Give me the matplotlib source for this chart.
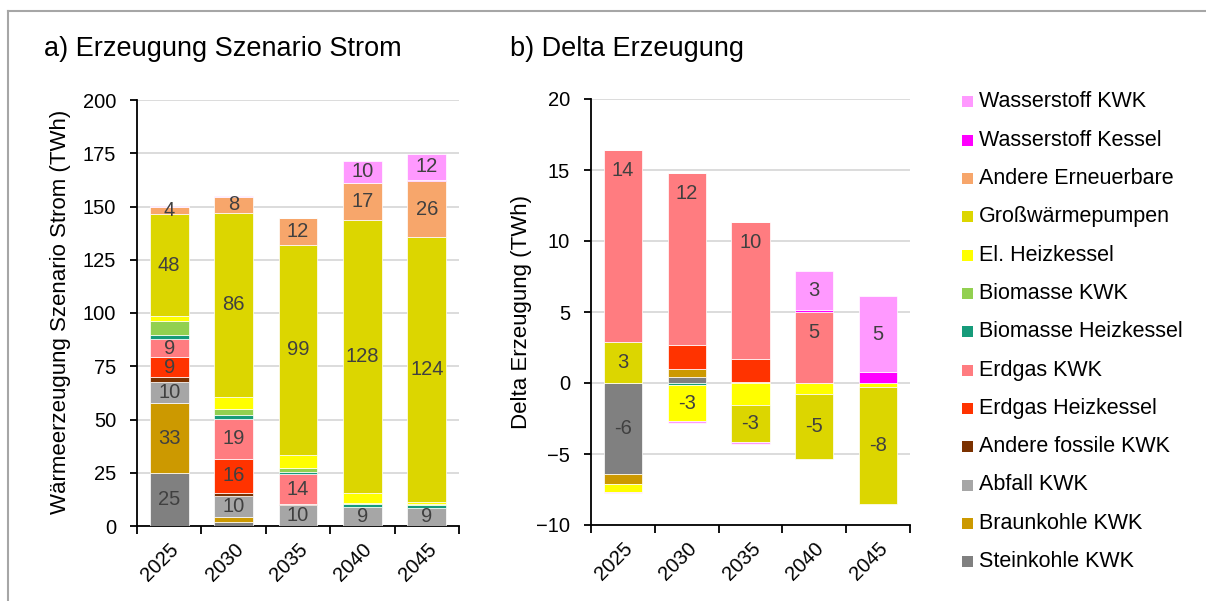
import numpy as np
import matplotlib
matplotlib.use('Agg')
import matplotlib.pyplot as plt
from matplotlib.patches import Rectangle
from matplotlib.lines import Line2D

plt.rcParams['font.family'] = ['Liberation Sans', 'DejaVu Sans']

# --- Data ---
years = ['2025', '2030', '2035', '2040', '2045']

# a) Erzeugung Szenario Strom (TWh)
a_steinkohle = [24.7, 1.9, 0, 0, 0]
a_braunkohle = [33.0, 2.2, 0, 0, 0]
a_abfall = [9.8, 10.0, 9.7, 8.75, 8.6]
a_andere_fossile = [2.3, 1.6, 0.6, 0, 0]
a_erdgas_kessel = [9.4, 15.9, 0, 0, 0]
a_erdgas_kwk = [8.6, 18.8, 14.0, 0.4, 0]
a_bio_kessel = [1.7, 1.7, 1.1, 1.0, 1.1]
a_bio_kwk = [6.9, 2.7, 1.9, 0.8, 0.5]
a_el_kessel = [2.2, 5.9, 5.9, 4.7, 0.9]
a_gwp = [47.7, 86.4, 98.9, 128.0, 124.4]
a_andere_ee = [3.6, 7.5, 12.3, 17.4, 26.4]
a_h2_kessel = [0, 0, 0, 0, 0.5]
a_h2_kwk = [0.3, 0.3, 0.4, 10.3, 12.3]

# b) Delta Erzeugung (TWh)
b_steinkohle = [-6.44, 0.4, 0, 0, 0]
b_braunkohle = [-0.64, 0.6, 0, 0, 0]
b_abfall = [0, 0, 0, 0, 0]
b_andere_fossile = [0, 0, 0.1, 0, 0]
b_erdgas_kessel = [0, 1.7, 1.6, 0, 0]
b_erdgas_kwk = [13.5, 12.1, 9.65, 5.0, 0]
b_bio_kessel = [0, -0.15, 0, 0, 0]
b_bio_kwk = [0, 0, 0, 0, 0]
b_el_kessel = [-0.6, -2.55, -1.58, -0.75, -0.25]
b_gwp = [2.9, 0, -2.6, -4.6, -8.3]
b_andere_ee = [0, 0, 0, 0, 0]
b_h2_kessel = [0, 0, 0, 0.16, 0.8]
b_h2_kwk = [-0.1, -0.15, -0.1, 2.75, 5.3]

names = ['Steinkohle KWK', 'Braunkohle KWK', 'Abfall KWK', 'Andere fossile KWK',
         'Erdgas Heizkessel', 'Erdgas KWK', 'Biomasse Heizkessel', 'Biomasse KWK',
         'El. Heizkessel', 'Großwärmepumpen', 'Andere Erneuerbare',
         'Wasserstoff Kessel', 'Wasserstoff KWK']
colors = ['#808080', '#cc9900', '#a6a6a6', '#7b3100',
          '#ff3300', '#ff7c80', '#169b7a', '#92d050',
          '#ffff00', '#dcd600', '#f7a66b',
          '#ff00ff', '#ff99ff']

series_a = dict(zip(names, [a_steinkohle, a_braunkohle, a_abfall, a_andere_fossile,
                            a_erdgas_kessel, a_erdgas_kwk, a_bio_kessel, a_bio_kwk,
                            a_el_kessel, a_gwp, a_andere_ee, a_h2_kessel, a_h2_kwk]))
series_b = dict(zip(names, [b_steinkohle, b_braunkohle, b_abfall, b_andere_fossile,
                            b_erdgas_kessel, b_erdgas_kwk, b_bio_kessel, b_bio_kwk,
                            b_el_kessel, b_gwp, b_andere_ee, b_h2_kessel, b_h2_kwk]))
color_of = dict(zip(names, colors))

# the delta chart stacks in a slightly different order
order_b = ['Steinkohle KWK', 'Braunkohle KWK', 'Abfall KWK', 'Andere fossile KWK',
           'Biomasse Heizkessel', 'Biomasse KWK', 'El. Heizkessel', 'Großwärmepumpen',
           'Erdgas Heizkessel', 'Erdgas KWK', 'Andere Erneuerbare',
           'Wasserstoff Kessel', 'Wasserstoff KWK']

W, H = 1206, 601
LABEL_COLOR = '#404040'
GRID_COLOR = '#d9d9d9'


def fx(px):
    return px / W


def fy(py):
    return 1 - py / H


def stacked(ax, series, order, skip_labels=(), top_labels=()):
    x = np.arange(len(years))
    pos = np.zeros(len(years))
    neg = np.zeros(len(years))
    for name in order:
        vals = np.array(series[name], dtype=float)
        bottom = np.where(vals >= 0, pos, neg)
        ax.bar(x, vals, 0.6, bottom=bottom, color=color_of[name],
               edgecolor='white', linewidth=0.5, zorder=3)
        for xi, v, b in zip(x, vals, bottom):
            if abs(v) < 2.5 or name in skip_labels:
                continue
            if name in top_labels:
                ax.annotate(f'{v:.0f}', (xi, b + v), xytext=(0, -8),
                            textcoords='offset points', ha='center', va='top',
                            fontsize=14.5, color=LABEL_COLOR, zorder=4)
            else:
                ax.text(xi, b + v / 2, f'{v:.0f}', ha='center', va='center',
                        fontsize=14.5, color=LABEL_COLOR, zorder=4)
        pos += np.where(vals > 0, vals, 0)
        neg += np.where(vals < 0, vals, 0)


def style(ax, ylim, yticks):
    ax.set_xlim(-0.5, len(years) - 0.5)
    ax.set_ylim(*ylim)
    ax.set_yticks(yticks)
    ax.set_xticks(np.arange(len(years)))
    ax.set_xticklabels(years, rotation=45, ha='right', rotation_mode='anchor')
    ax.set_xticks(np.arange(len(years) + 1) - 0.5, minor=True)
    ax.tick_params(axis='x', which='major', length=0, pad=10, labelsize=14.5)
    ax.tick_params(axis='x', which='minor', length=6, width=1.3, direction='out')
    ax.tick_params(axis='y', length=5, width=1.3, direction='out', pad=10, labelsize=14.5)
    ax.grid(axis='y', color=GRID_COLOR, linewidth=1.3, zorder=0)
    ax.set_axisbelow(True)
    for s in ['top', 'right']:
        ax.spines[s].set_visible(False)
    for s in ['left', 'bottom']:
        ax.spines[s].set_linewidth(1.3)
        ax.spines[s].set_color('black')


fig = plt.figure(figsize=(W / 100, H / 100), dpi=100)

ax_a = fig.add_axes([fx(137), fy(526), fx(322), 426 / H])
stacked(ax_a, series_a, names, skip_labels=('Biomasse KWK', 'El. Heizkessel'))
style(ax_a, (0, 200), np.arange(0, 201, 25))

ax_b = fig.add_axes([fx(591), fy(525), fx(319), 426 / H])
stacked(ax_b, series_b, order_b, top_labels=('Erdgas KWK',))
style(ax_b, (-10, 20), np.arange(-10, 21, 5))

# titles and axis labels
fig.text(fx(44), fy(56), 'a) Erzeugung Szenario Strom', fontsize=19.5, va='baseline')
fig.text(fx(510), fy(56), 'b) Delta Erzeugung', fontsize=19.5, va='baseline')
fig.text(fx(61), fy(312), 'Wärmeerzeugung Szenario Strom (TWh)', fontsize=16,
         rotation=90, ha='center', va='center')
fig.text(fx(522), fy(312), 'Delta Erzeugung (TWh)', fontsize=16,
         rotation=90, ha='center', va='center')

# legend, drawn by hand: top entry is the last series
for i, name in enumerate(names[::-1]):
    yc = 101.7 + i * 38.33
    fig.add_artist(Rectangle((fx(962), fy(yc + 5.5)), fx(11), 11 / H,
                             transform=fig.transFigure, facecolor=color_of[name],
                             edgecolor='none'))
    fig.text(fx(979), fy(yc), name, fontsize=15.5, va='center', ha='left')

# light grey frame around the whole figure (open to right and bottom)
fig.add_artist(Line2D([fx(7.5), 1], [fy(11), fy(11)], transform=fig.transFigure,
                      color='#a6a6a6', linewidth=1.5))
fig.add_artist(Line2D([fx(7.5), fx(7.5)], [0, fy(11)], transform=fig.transFigure,
                      color='#a6a6a6', linewidth=1.5))

fig.savefig('out.png', dpi=100)
